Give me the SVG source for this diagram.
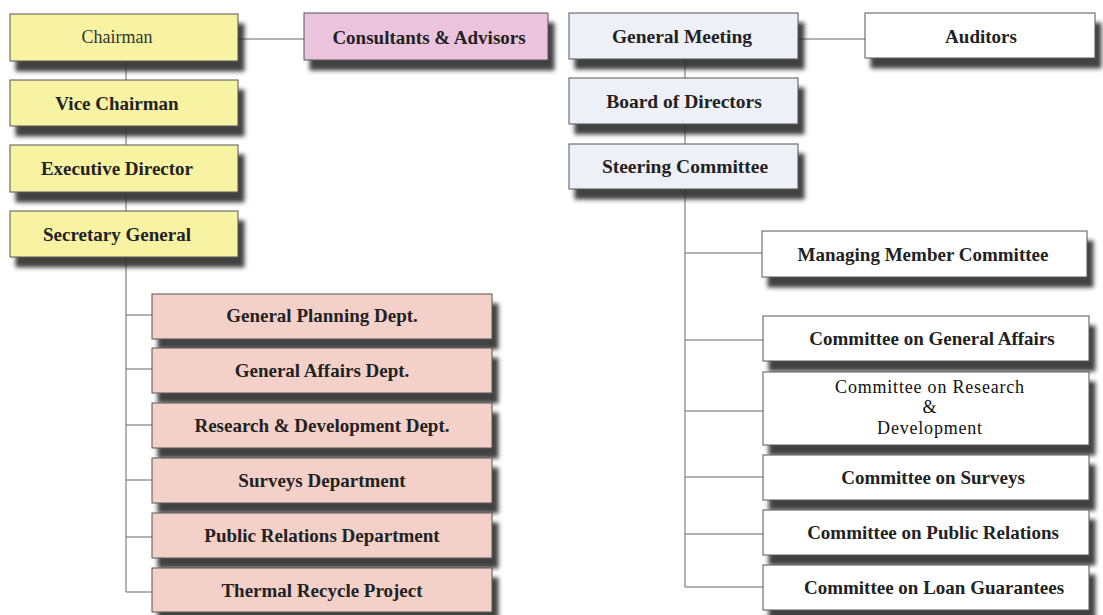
<svg xmlns="http://www.w3.org/2000/svg" width="1103" height="615" viewBox="0 0 1103 615">
  <defs>
    <filter id="drop" x="-10%" y="-30%" width="125%" height="180%">
      <feGaussianBlur in="SourceAlpha" stdDeviation="2.2" result="b"/>
      <feOffset in="b" dx="6" dy="10" result="o"/>
      <feFlood flood-color="#2c2c2c" flood-opacity="0.9"/>
      <feComposite in2="o" operator="in" result="s"/>
      <feMerge>
        <feMergeNode in="s"/>
        <feMergeNode in="SourceGraphic"/>
      </feMerge>
    </filter>
    <style>
      .box { stroke: #555; stroke-width: 1; filter: url(#drop); }
      .yellow { fill: #f8f3a2; }
      .pink { fill: #ebc3dc; }
      .salmon { fill: #f3d0c8; }
      .blue { fill: #eef0f7; }
      .white { fill: #ffffff; }
      .lbl { font-family: "Liberation Serif", "Times New Roman", serif; font-size: 19px; font-weight: bold; fill: #222; text-anchor: middle; }
      .big { font-size: 19.5px; }
      .thin { font-weight: normal; fill: #333; }
      .rnd { font-size: 18px; letter-spacing: 0.8px; fill: #111; }
      .link { stroke: #666; stroke-width: 1; fill: none; }
    </style>
  </defs>
  <rect width="1103" height="615" fill="#ffffff"/>

  <!-- connectors -->
  <g id="connectors" class="link">
    <path d="M126 61 V211"/>
    <path d="M238 39 H304"/>
    <path d="M685 59 V144"/>
    <path d="M798 39 H865"/>
    <path d="M126 257 V592 H152"/>
    <path d="M126 315 H152 M126 369 H152 M126 425 H152 M126 480 H152 M126 537 H152"/>
    <path d="M685 189 V587 H763"/>
    <path d="M685 253 H762 M685 340 H763 M685 411 H763 M685 477 H763 M685 534 H763"/>
  </g>

  <!-- chairman's line -->
  <g id="chairman"><rect class="box yellow" x="10" y="14" width="228" height="47"/><text class="lbl thin" style="font-size:18px" x="117" y="43">Chairman</text></g>
  <g id="vice-chairman"><rect class="box yellow" x="10" y="80" width="228" height="46"/><text class="lbl" x="117" y="110">Vice Chairman</text></g>
  <g id="executive-director"><rect class="box yellow" x="10" y="145" width="228" height="47"/><text class="lbl" x="117" y="175">Executive Director</text></g>
  <g id="secretary-general"><rect class="box yellow" x="10" y="211" width="228" height="46"/><text class="lbl" x="117" y="241">Secretary General</text></g>
  <g id="consultants"><rect class="box pink" x="304" y="13" width="244" height="47"/><text class="lbl" x="429" y="44">Consultants &amp; Advisors</text></g>

  <!-- departments -->
  <g id="dept-planning"><rect class="box salmon" x="152" y="294" width="340" height="45"/><text class="lbl" x="322" y="322">General Planning Dept.</text></g>
  <g id="dept-affairs"><rect class="box salmon" x="152" y="348" width="340" height="45"/><text class="lbl" x="322" y="377">General Affairs Dept.</text></g>
  <g id="dept-rnd"><rect class="box salmon" x="152" y="403" width="340" height="45"/><text class="lbl" x="322" y="432">Research &amp; Development Dept.</text></g>
  <g id="dept-surveys"><rect class="box salmon" x="152" y="458" width="340" height="45"/><text class="lbl" x="322" y="487">Surveys Department</text></g>
  <g id="dept-pr"><rect class="box salmon" x="152" y="513" width="340" height="45"/><text class="lbl" x="322" y="542">Public Relations Department</text></g>
  <g id="dept-thermal"><rect class="box salmon" x="152" y="568" width="340" height="44"/><text class="lbl" x="322" y="597">Thermal Recycle Project</text></g>

  <!-- meeting line -->
  <g id="general-meeting"><rect class="box blue" x="569" y="13" width="229" height="46"/><text class="lbl big" x="682" y="43">General Meeting</text></g>
  <g id="auditors"><rect class="box white" x="865" y="13" width="230" height="45"/><text class="lbl" x="981" y="43">Auditors</text></g>
  <g id="board"><rect class="box blue" x="569" y="78" width="229" height="46"/><text class="lbl big" x="684" y="108">Board of Directors</text></g>
  <g id="steering"><rect class="box blue" x="569" y="144" width="229" height="45"/><text class="lbl big" x="685" y="173">Steering Committee</text></g>

  <!-- committees -->
  <g id="cmt-managing"><rect class="box white" x="762" y="231" width="325" height="46"/><text class="lbl" x="923" y="261">Managing Member Committee</text></g>
  <g id="cmt-affairs"><rect class="box white" x="763" y="316" width="326" height="45"/><text class="lbl" x="932" y="345">Committee on General Affairs</text></g>
  <g id="cmt-rnd"><rect class="box white" x="763" y="372" width="326" height="73"/>
    <text class="lbl thin rnd" x="930" y="393">Committee on Research</text>
    <text class="lbl thin rnd" x="930" y="413">&amp;</text>
    <text class="lbl thin rnd" x="930" y="434">Development</text></g>
  <g id="cmt-surveys"><rect class="box white" x="763" y="455" width="326" height="45"/><text class="lbl" x="933" y="484">Committee on Surveys</text></g>
  <g id="cmt-pr"><rect class="box white" x="763" y="510" width="326" height="45"/><text class="lbl" x="933" y="539">Committee on Public Relations</text></g>
  <g id="cmt-loan"><rect class="box white" x="763" y="565" width="326" height="45"/><text class="lbl" x="934" y="594">Committee on Loan Guarantees</text></g>
</svg>
